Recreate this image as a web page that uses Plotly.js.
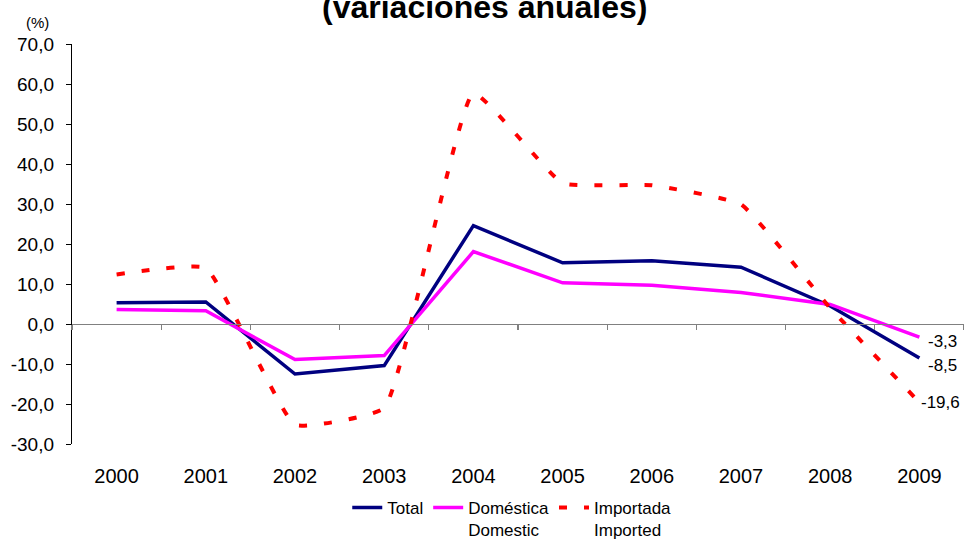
<!DOCTYPE html>
<html>
<head>
<meta charset="utf-8">
<script src="https://cdn.plot.ly/plotly-3.0.1.min.js"></script>
<style>html,body{margin:0;padding:0;background:#fff;}#chart{width:964px;height:540px;}</style>
</head>
<body>
<div id="chart"></div>
<script>
const years = ['2000','2001','2002','2003','2004','2005','2006','2007','2008','2009'];
const total = [5.3, 5.5, -12.5, -10.4, 24.6, 15.3, 15.8, 14.2, 4.5, -8.5];
const domestica = [3.6, 3.3, -8.9, -7.9, 18.1, 10.3, 9.7, 7.9, 4.9, -3.3];
const importada = [12.4, 14.0, -25.2, -21.0, 57.7, 35.2, 34.7, 29.9, 4.0, -19.6];
const seriesNames = ['Total', 'Doméstica<br>Domestic', 'Importada<br>Imported'];
const yTicks = [-30, -20, -10, 0, 10, 20, 30, 40, 50, 60, 70];
const fmt = v => v.toFixed(1).replace('.', ',');
const FONT = 'Liberation Sans, Arial, sans-serif';

const traces = [
  {x: years, y: total, name: seriesNames[0], type: 'scatter', mode: 'lines',
   line: {color: '#000080', width: 3.5}},
  {x: years, y: domestica, name: seriesNames[1], type: 'scatter', mode: 'lines',
   line: {color: '#FF00FF', width: 3.5}},
  {x: years, y: importada, name: seriesNames[2], type: 'scatter', mode: 'lines',
   line: {color: '#FF0000', width: 4, dash: '8px,17px', shape: 'spline', smoothing: 0.35}},
  {x: [0, 9], y: [0, 0], xaxis: 'x2', yaxis: 'y', type: 'scatter', mode: 'lines',
   line: {color: 'rgba(0,0,0,0)', width: 0}, showlegend: false, hoverinfo: 'skip'}
];

const last = years.length - 1;
const endLabels = [
  {val: domestica[last], dx: 7, dy: -4},
  {val: total[last], dx: 7, dy: -7},
  {val: importada[last], dx: 0, dy: 0}
];

const annotations = endLabels.map(e => ({
  x: last, y: e.val, xref: 'x', yref: 'y', text: fmt(e.val),
  showarrow: false, xanchor: 'left', yanchor: 'middle', xshift: e.dx, yshift: e.dy,
  font: {family: FONT, size: 17, color: '#000'}
}));
annotations.push(
  {x: (37 - 72) / 892, xref: 'paper', xanchor: 'center', y: 1.0, yref: 'paper',
   yanchor: 'bottom', yshift: 11, text: '(%)', showarrow: false,
   font: {family: FONT, size: 15, color: '#000'}},
  {x: 0.462, xref: 'paper', xanchor: 'center', y: 1, yref: 'paper', yanchor: 'bottom',
   yshift: 17, text: '<b>(variaciones anuales)</b>', showarrow: false,
   font: {family: FONT, size: 32, color: '#000'}}
);

const layout = {
  width: 964, height: 540,
  margin: {l: 72, r: 0, t: 44, b: 96, autoexpand: false},
  paper_bgcolor: '#fff', plot_bgcolor: '#fff',
  font: {family: FONT, size: 17, color: '#000'},
  separators: ',.',
  showlegend: true,
  legend: {orientation: 'h', x: 0.493, xanchor: 'center', y: -0.115, yanchor: 'top',
           valign: 'top', font: {size: 17}, traceorder: 'normal',
           itemwidth: 30, bgcolor: 'rgba(0,0,0,0)'},
  xaxis: {type: 'category', range: [-0.5, 9.5], showline: false, showgrid: false,
          zeroline: false, ticks: 'outside', ticklen: 14, tickcolor: 'rgba(0,0,0,0)',
          tickfont: {size: 20}, fixedrange: true},
  xaxis2: {type: 'linear', overlaying: 'x', anchor: 'free', position: 0.3,
           range: [-0.5, 9.5], showline: true, linecolor: '#808080', linewidth: 1.2,
           ticks: 'outside', ticklen: 5, tickcolor: '#808080', tickwidth: 1.2,
           tickmode: 'linear', tick0: -0.5, dtick: 1, showticklabels: false,
           showgrid: false, zeroline: false},
  yaxis: {range: [-30, 70], tickvals: yTicks, ticktext: yTicks.map(fmt),
          showline: true, linecolor: '#000', linewidth: 1.2, ticks: 'outside',
          ticklen: 5, tickcolor: '#000', showgrid: false, zeroline: false,
          ticklabelstandoff: 8, tickfont: {size: 19}, fixedrange: true},
  annotations: annotations
};

Plotly.newPlot('chart', traces, layout, {displayModeBar: false, staticPlot: true});
</script>
</body>
</html>
